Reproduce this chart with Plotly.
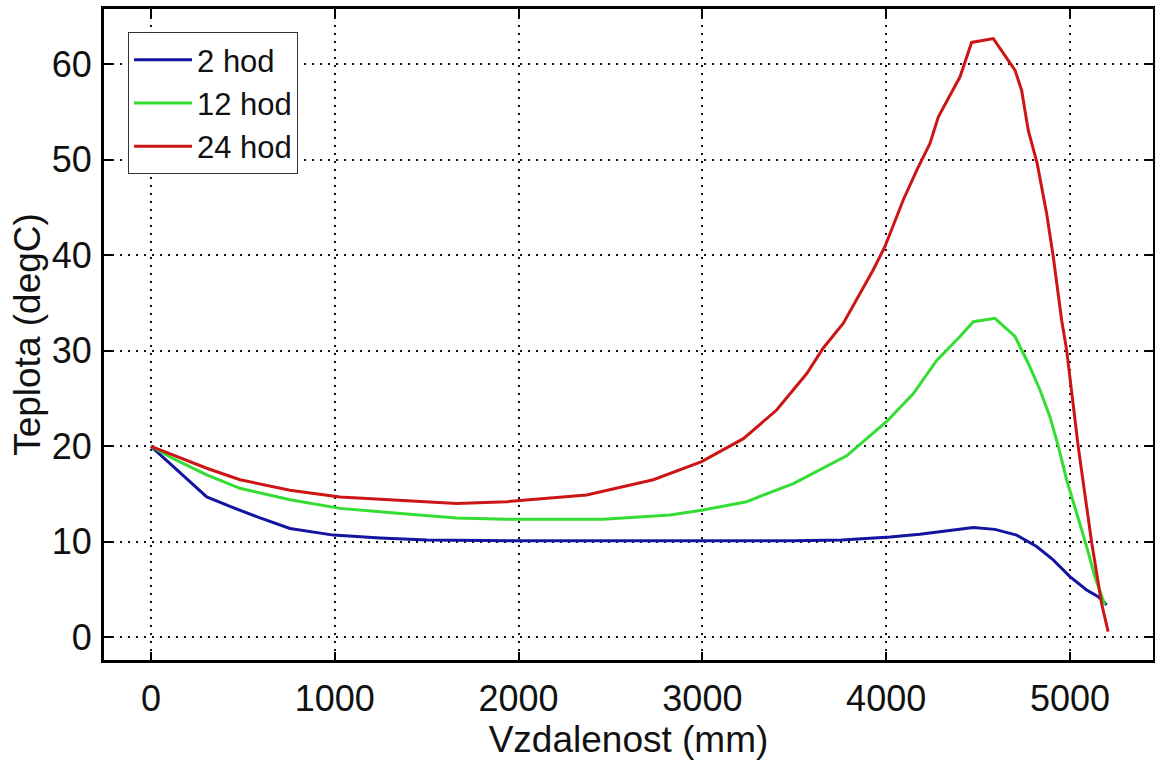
import plotly.graph_objects as go

# ---- data ----
series_names = ["2 hod", "12 hod", "24 hod"]

x_2h = [0, 121, 303, 430, 593, 756, 992, 1246, 1500, 2000, 2500, 3000, 3500, 3758,
        4021, 4184, 4347, 4474, 4592, 4710, 4819, 4909, 5000, 5091, 5154, 5200]
y_2h = [20.0, 17.9, 14.7, 13.7, 12.5, 11.4, 10.7, 10.4, 10.2, 10.1, 10.1, 10.1, 10.1, 10.2,
        10.5, 10.8, 11.2, 11.5, 11.3, 10.7, 9.5, 8.1, 6.35, 4.95, 4.25, 3.4]

x_12h = [0, 121, 303, 484, 756, 1028, 1391, 1663, 1935, 2461, 2824, 2996, 3241, 3495,
         3785, 4003, 4147, 4275, 4402, 4474, 4592, 4701, 4773, 4837, 4891, 4937, 4982,
         5036, 5091, 5136, 5190]
y_12h = [20.0, 18.7, 17.0, 15.6, 14.4, 13.5, 12.9, 12.5, 12.35, 12.35, 12.8, 13.3, 14.2, 16.1,
         19.0, 22.6, 25.5, 29.0, 31.5, 33.05, 33.4, 31.5, 28.7, 25.9, 23.1, 20.0, 16.5,
         13.0, 9.5, 6.3, 3.4]

x_24h = [0, 121, 303, 484, 756, 1028, 1391, 1663, 1935, 2370, 2733, 2996, 3223, 3404,
         3567, 3658, 3767, 3930, 3993, 4093, 4166, 4238, 4284, 4402, 4465, 4583, 4701,
         4737, 4773, 4822, 4873, 4909, 4955, 4982, 5045, 5118, 5172, 5208]
y_24h = [20.0, 19.1, 17.7, 16.5, 15.4, 14.7, 14.3, 14.0, 14.2, 14.9, 16.5, 18.4, 20.8, 23.8,
         27.6, 30.3, 32.9, 38.5, 40.9, 45.8, 48.9, 51.7, 54.5, 58.7, 62.3, 62.7, 59.4,
         57.3, 53.1, 49.6, 44.4, 39.9, 33.2, 30.1, 20.0, 9.95, 3.56, 0.6]

x_ticks = [0, 1000, 2000, 3000, 4000, 5000]
y_ticks = [0, 10, 20, 30, 40, 50, 60]

colors = ["#1414a0", "#33dd33", "#cc1515"]

# ---- figure ----
fig = go.Figure()
for name, xs, ys, c in zip(series_names, [x_2h, x_12h, x_24h], [y_2h, y_12h, y_24h], colors):
    fig.add_trace(go.Scatter(x=xs, y=ys, mode="lines", name=name,
                             line=dict(color=c, width=3)))

font_family = "Liberation Sans, Arial, sans-serif"
axis_common = dict(
    showline=True, linecolor="black", linewidth=3, mirror="ticks",
    ticks="inside", ticklen=8, tickwidth=2, tickcolor="black",
    showgrid=True, gridcolor="#111111", gridwidth=1.5, griddash="2px,6px",
    zeroline=False, tickfont=dict(family=font_family, size=36, color="#111111"),
    title_font=dict(family=font_family, size=37, color="#111111"),
    automargin=False,
)

fig.update_xaxes(range=[-256, 5452], tickvals=x_ticks, ticklabelstandoff=5,
                 title_text="Vzdalenost (mm)", title_standoff=5, **axis_common)
fig.update_yaxes(range=[-2.38, 65.8], tickvals=y_ticks, ticklabelstandoff=2,
                 title_text="Teplota (degC)", title_standoff=0, **axis_common)

fig.update_layout(
    width=1155, height=767,
    margin=dict(l=104, r=2, t=9, b=107),
    paper_bgcolor="white", plot_bgcolor="white",
    font=dict(family=font_family, color="#111111"),
    showlegend=True,
    legend=dict(x=0.0229, y=0.9647, xanchor="left", yanchor="top",
                bgcolor="white", bordercolor="#333333", borderwidth=1,
                font=dict(family=font_family, size=31, color="#111111"),
                tracegroupgap=0, itemwidth=58),
)

fig.write_html("out.html")
